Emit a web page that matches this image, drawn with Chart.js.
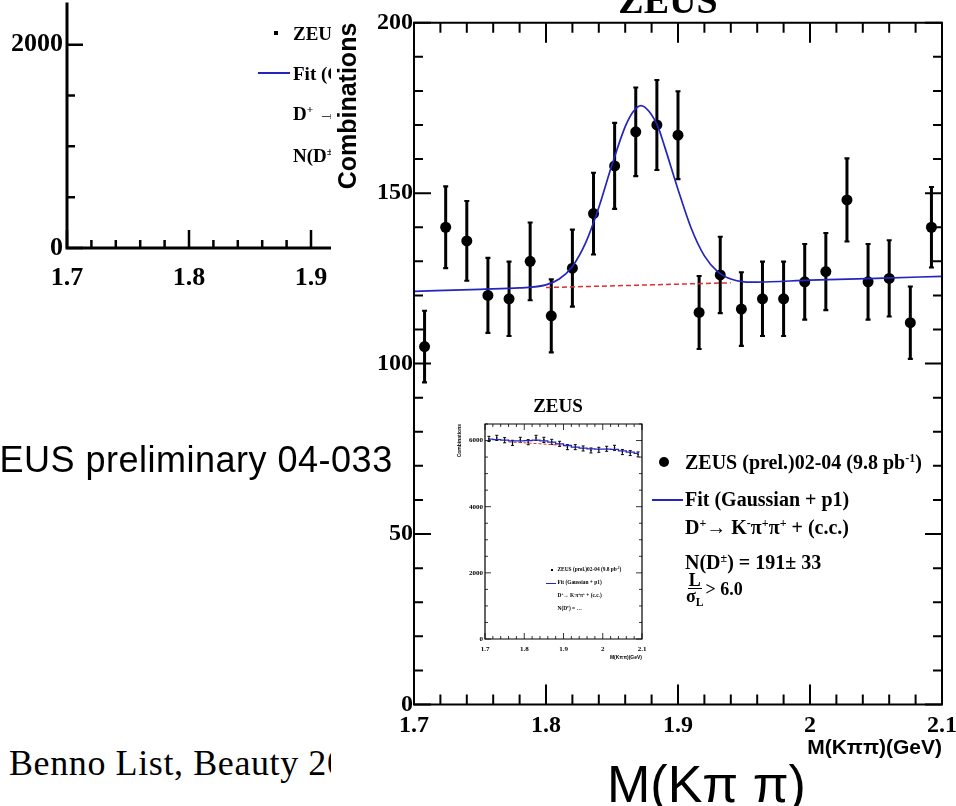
<!DOCTYPE html>
<html>
<head>
<meta charset="utf-8">
<script src="https://cdn.jsdelivr.net/npm/chart.js@4.4.1/dist/chart.umd.min.js"></script>
<style>
html,body{margin:0;padding:0;background:#fff;width:956px;height:806px;overflow:hidden;position:relative;}
.abs{position:absolute;white-space:nowrap;}
.serif{font-family:"Liberation Serif","Times New Roman",serif;}
.sans{font-family:"Liberation Sans",Arial,sans-serif;}
.b{font-weight:bold;}
sup{font-size:60%;line-height:0;vertical-align:0.6em;}
sub{font-size:65%;line-height:0;vertical-align:-0.3em;}
canvas{display:block;}
</style>
</head>
<body>
<!-- enlarged copy of the small plot, cropped at the left -->
<div id="leftWrap" class="abs" style="left:0;top:0;width:331px;height:300px;overflow:hidden;z-index:1;">
  <canvas id="leftChart" width="600" height="300"></canvas>
  <div class="abs" style="left:274px;top:31px;width:4px;height:4px;background:#000;"></div>
  <div class="abs serif b" style="left:293px;top:23.5px;font-size:19px;line-height:19px;">ZEUS (prel.)02-04 (9.8 pb<sup>-1</sup>)</div>
  <div class="abs" style="left:258px;top:72px;width:32px;height:1.5px;background:#2424c0;"></div>
  <div class="abs serif b" style="left:293px;top:63.5px;font-size:19px;line-height:19px;">Fit (Gaussian + p1)</div>
  <div class="abs serif b" style="left:293px;top:103.5px;font-size:19px;line-height:19px;">D<sup>+</sup>&nbsp;→ K<sup>-</sup>π<sup>+</sup>π<sup>+</sup> + (c.c.)</div>
  <div class="abs serif b" style="left:293px;top:145.5px;font-size:19px;line-height:19px;">N(D<sup>±</sup>) = …</div>
</div>

<canvas id="mainChart" class="abs" style="left:333px;top:0;z-index:2;" width="623" height="806"></canvas>
<canvas id="insetChart" class="abs" style="left:450px;top:395px;z-index:3;" width="200" height="270"></canvas>

<!-- main plot title -->
<div class="abs serif b" style="left:568px;top:-18.8px;width:200px;text-align:center;font-size:38px;line-height:38px;z-index:4;">ZEUS</div>

<!-- inset title and legend -->
<div class="abs serif b" style="left:508px;top:395.5px;width:100px;text-align:center;font-size:19px;line-height:19px;z-index:4;">ZEUS</div>
<div class="abs" style="left:551px;top:569px;width:2px;height:2px;background:#000;z-index:4;"></div>
<div class="abs serif b" style="left:557.5px;top:567.3px;font-size:5.4px;line-height:5.4px;z-index:4;">ZEUS (prel.)02-04 (9.8 pb<sup>-1</sup>)</div>
<div class="abs" style="left:546px;top:582.5px;width:10px;height:1px;background:#2424c0;z-index:4;"></div>
<div class="abs serif b" style="left:557.5px;top:580.3px;font-size:5.4px;line-height:5.4px;z-index:4;">Fit (Gaussian + p1)</div>
<div class="abs serif b" style="left:557.5px;top:593px;font-size:5.4px;line-height:5.4px;z-index:4;">D<sup>+</sup>→ K<sup>-</sup>π<sup>+</sup>π<sup>+</sup> + (c.c.)</div>
<div class="abs serif b" style="left:557.5px;top:606.3px;font-size:5.4px;line-height:5.4px;z-index:4;">N(D<sup>±</sup>) = …</div>

<!-- main legend -->
<div class="abs" style="left:659px;top:457px;width:10px;height:10px;border-radius:50%;background:#000;z-index:4;"></div>
<div class="abs serif b" style="left:685px;top:452px;font-size:20px;line-height:20px;z-index:4;">ZEUS (prel.)02-04 (9.8 pb<sup>-1</sup>)</div>
<div class="abs" style="left:652px;top:498.5px;width:31px;height:2px;background:#2424c0;z-index:4;"></div>
<div class="abs serif b" style="left:685px;top:489px;font-size:20px;line-height:20px;z-index:4;">Fit (Gaussian + p1)</div>
<div class="abs serif b" style="left:685px;top:517px;font-size:20px;line-height:20px;z-index:4;">D<sup>+</sup>→ K<sup>-</sup>π<sup>+</sup>π<sup>+</sup> + (c.c.)</div>
<div class="abs serif b" style="left:685px;top:552px;font-size:20px;line-height:20px;z-index:4;">N(D<sup>±</sup>) = 191± 33</div>
<div class="abs serif b" style="left:686px;top:573px;font-size:18px;line-height:1;display:flex;align-items:center;z-index:4;">
  <span style="display:inline-flex;flex-direction:column;align-items:center;line-height:15px;">
    <span style="border-bottom:1.5px solid #000;padding:0 1px;">L</span>
    <span>σ<sub>L</sub></span>
  </span>
  <span style="margin-left:2px;">&gt; 6.0</span>
</div>

<!-- slide texts -->
<div class="abs sans" style="left:-23px;top:441.5px;font-size:36px;line-height:36px;letter-spacing:0.5px;z-index:5;">ZEUS preliminary 04-033</div>
<div class="abs" style="left:0;top:740px;width:331px;height:66px;overflow:hidden;z-index:1;">
  <div class="abs serif" style="left:9px;top:4.8px;font-size:36px;line-height:36px;letter-spacing:0.6px;">Benno List, Beauty 2004</div>
</div>
<div class="abs sans" style="left:607px;top:758px;font-size:52px;line-height:52px;z-index:5;">M(Kπ π)</div>

<script>
// ---------- main plot data ----------
const massBins = [1.708,1.724,1.740,1.756,1.772,1.788,1.804,1.820,1.836,1.852,1.868,1.884,1.900,
                  1.916,1.932,1.948,1.964,1.980,1.996,2.012,2.028,2.044,2.060,2.076,2.092];
const combinations = [105,140,136,120,119,130,114,128,144,158,168,170,167,
                      115,126,116,119,119,124,127,148,124,125,112,140];
const combErrors = [10.5,12.0,11.7,11.0,10.9,11.4,10.7,11.3,12.0,12.6,13.0,13.2,12.9,
                    10.7,11.2,10.8,10.9,10.9,11.1,11.3,12.2,11.1,11.2,10.6,11.8];
const fitMass = [1.700,1.750,1.780,1.800,1.810,1.820,1.830,1.840,1.850,1.860,1.866,1.872,1.878,
                 1.885,1.890,1.900,1.910,1.920,1.930,1.940,1.950,1.960,2.000,2.050,2.100];
const fitValues = [121.2,121.8,122.2,123.1,124.8,128.5,135.4,145.8,158.3,169.5,173.9,175.7,174.0,
                   169.3,163.5,151.1,139.7,131.6,127.0,124.8,124.0,123.9,124.5,125.0,125.6];
const bgMass = [1.800,1.840,1.880,1.920,1.940];
const bgValues = [122.3,122.7,123.1,123.5,123.7];
const xTickValues = [1.7,1.8,1.9,2.0,2.1];
const xTickLabels = ['1.7','1.8','1.9','2','2.1'];
const yTickValues = [0,50,100,150,200];
const yTickLabels = ['0','50','100','150','200'];

// ---------- small (inset) plot data ----------
const insetMass = [1.71,1.73,1.75,1.77,1.79,1.81,1.83,1.85,1.87,1.89,
                   1.91,1.93,1.95,1.97,1.99,2.01,2.03,2.05,2.07,2.09];
const insetCounts = [6050,6080,6010,5930,6020,5950,6080,6020,5960,5900,
                     5800,5800,5760,5700,5720,5750,5780,5650,5620,5580];
const insetErrors = [78,78,78,77,78,77,78,78,77,77,76,76,76,75,76,76,76,75,75,75];
const insetFit = [6040,6030,6010,5990,5990,6000,6010,5990,5950,5900,
                  5850,5800,5770,5750,5740,5740,5730,5690,5650,5610];
const insetBgMass = [1.76,1.83,1.90];
const insetBgValues = [5960,5910,5850];
const insetYTickValues = [0,2000,4000,6000];
const insetYTickLabels = ['0','2000','4000','6000'];
const leftYTickValues = [0,2000];
const leftYTickLabels = ['0','2000'];

const SERIF = 'Liberation Serif';
const SANS = 'Liberation Sans';
const BLUE = '#2424c0';
const RED = '#d83030';

function pick(values, labels){
  return v => { const i = values.findIndex(t => Math.abs(t - v) < 1e-6); return i >= 0 ? labels[i] : ''; };
}
function fixedTicks(values){
  return s => { s.ticks = values.map(v => ({value:v})); };
}
function pts(xs, ys){ return xs.map((x,i)=>({x:x, y:ys[i]})); }

function errorBarPlugin(capHalf, lineW){
  return {
    id:'errorBars',
    beforeDatasetsDraw(chart){
      const {ctx, chartArea:a, scales:{x,y}} = chart;
      ctx.save();
      ctx.beginPath(); ctx.rect(a.left, a.top, a.right-a.left, a.bottom-a.top); ctx.clip();
      chart.data.datasets.forEach(ds=>{
        if(!ds.errors) return;
        ctx.strokeStyle = ds.errorColor || '#000';
        ds.data.forEach((p,i)=>{
          const e = ds.errors[i];
          const px = x.getPixelForValue(p.x);
          const yt = y.getPixelForValue(p.y + e), yb = y.getPixelForValue(p.y - e);
          ctx.lineWidth = lineW;
          ctx.beginPath(); ctx.moveTo(px, yt); ctx.lineTo(px, yb); ctx.stroke();
          ctx.lineWidth = Math.max(1, lineW*0.7);
          ctx.beginPath();
          ctx.moveTo(px-capHalf, yt); ctx.lineTo(px+capHalf, yt);
          ctx.moveTo(px-capHalf, yb); ctx.lineTo(px+capHalf, yb);
          ctx.stroke();
        });
      });
      ctx.restore();
    }
  };
}

function frameTicksPlugin(c){
  return {
    id:'frameTicks',
    afterDraw(chart){
      const {ctx, chartArea:a, scales:{x,y}} = chart;
      ctx.save();
      ctx.strokeStyle = '#000';
      ctx.lineWidth = c.tickWidth;
      ctx.beginPath();
      const nx = Math.floor((x.max - x.min)/c.xMinor + 1e-6);
      for(let i=0;i<=nx;i++){
        const px = x.getPixelForValue(x.min + i*c.xMinor);
        const len = (i % c.xMajorEvery === 0) ? c.xMajorLen : c.xMinorLen;
        if(c.sides.includes('bottom')){ ctx.moveTo(px, a.bottom); ctx.lineTo(px, a.bottom - len); }
        if(c.sides.includes('top')){ ctx.moveTo(px, a.top); ctx.lineTo(px, a.top + len); }
      }
      const ny = Math.floor((y.max - y.min)/c.yMinor + 1e-6);
      for(let i=0;i<=ny;i++){
        const py = y.getPixelForValue(y.min + i*c.yMinor);
        const len = (i % c.yMajorEvery === 0) ? c.yMajorLen : c.yMinorLen;
        if(c.sides.includes('left')){ ctx.moveTo(a.left, py); ctx.lineTo(a.left + len, py); }
        if(c.sides.includes('right')){ ctx.moveTo(a.right, py); ctx.lineTo(a.right - len, py); }
      }
      ctx.stroke();
      ctx.lineWidth = c.frameWidth;
      ctx.lineCap = 'square';
      ctx.beginPath();
      if(c.sides.includes('bottom')){ ctx.moveTo(a.left, a.bottom); ctx.lineTo(a.right, a.bottom); }
      if(c.sides.includes('top')){ ctx.moveTo(a.left, a.top); ctx.lineTo(a.right, a.top); }
      if(c.sides.includes('left')){ ctx.moveTo(a.left, a.top); ctx.lineTo(a.left, a.bottom); }
      if(c.sides.includes('right')){ ctx.moveTo(a.right, a.top); ctx.lineTo(a.right, a.bottom); }
      ctx.stroke();
      ctx.restore();
    }
  };
}

function zeroPad(s){ s.paddingLeft = 0; s.paddingRight = 0; s.paddingTop = 0; s.paddingBottom = 0; }
const noGrid = {display:false, drawTicks:false};

// ---------- main chart ----------
new Chart(document.getElementById('mainChart'), {
  type:'scatter',
  data:{
    datasets:[
      {label:'Fit (Gaussian + p1)', data:pts(fitMass, fitValues), showLine:true, pointRadius:0,
       borderColor:BLUE, borderWidth:1.7, cubicInterpolationMode:'monotone'},
      {label:'Background', data:pts(bgMass, bgValues), showLine:true, pointRadius:0,
       borderColor:RED, borderWidth:1.5, borderDash:[5,3]},
      {label:'ZEUS (prel.)02-04', data:pts(massBins, combinations), errors:combErrors, showLine:false,
       pointRadius:5.5, pointBackgroundColor:'#000', pointBorderWidth:0}
    ]
  },
  options:{
    responsive:false, animation:false, devicePixelRatio:1,
    layout:{padding:{left:0, right:14, top:22.7, bottom:0}},
    plugins:{legend:{display:false}, tooltip:{enabled:false}, title:{display:false}},
    scales:{
      x:{type:'linear', min:1.7, max:2.1,
         grid:noGrid, border:{display:false},
         afterBuildTicks:fixedTicks(xTickValues),
         ticks:{autoSkip:false, maxRotation:0, minRotation:0, padding:7,
                color:'#000', font:{family:SERIF, weight:'bold', size:24}, callback:pick(xTickValues, xTickLabels)},
         title:{display:true, text:'M(Kππ)(GeV)', align:'end', color:'#000',
                font:{family:SANS, weight:'bold', size:21}, padding:{top:0, bottom:45}},
         afterFit:(s)=>{ s.height = 101.5; zeroPad(s); }},
      y:{type:'linear', min:0, max:200,
         grid:noGrid, border:{display:false},
         afterBuildTicks:fixedTicks(yTickValues),
         ticks:{autoSkip:false, padding:1, color:'#000',
                font:{family:SERIF, weight:'bold', size:24}, callback:pick(yTickValues, yTickLabels)},
         title:{display:true, text:'Combinations', align:'end', color:'#000',
                font:{family:SANS, weight:'bold', size:25}, padding:{top:1, bottom:0}},
         afterFit:(s)=>{ s.width = 81; zeroPad(s); }}
    }
  },
  plugins:[errorBarPlugin(2.5, 3), frameTicksPlugin({
    sides:['bottom','top','left','right'], tickWidth:2, frameWidth:2,
    xMinor:0.02, xMajorEvery:5, xMajorLen:20, xMinorLen:10,
    yMinor:10, yMajorEvery:5, yMajorLen:17, yMinorLen:9})]
});

// ---------- inset chart ----------
new Chart(document.getElementById('insetChart'), {
  type:'scatter',
  data:{
    datasets:[
      {label:'Fit', data:pts(insetMass, insetFit), showLine:true, stepped:'middle', pointRadius:0,
       borderColor:BLUE, borderWidth:1.3},
      {label:'Background', data:pts(insetBgMass, insetBgValues), showLine:true, pointRadius:0,
       borderColor:RED, borderWidth:1, borderDash:[3,2]},
      {label:'ZEUS', data:pts(insetMass, insetCounts), errors:insetErrors, showLine:false,
       pointRadius:0.8, pointBackgroundColor:'#000', pointBorderWidth:0}
    ]
  },
  options:{
    responsive:false, animation:false, devicePixelRatio:1,
    layout:{padding:{left:0, right:8, top:29, bottom:0}},
    plugins:{legend:{display:false}, tooltip:{enabled:false}, title:{display:false}},
    scales:{
      x:{type:'linear', min:1.7, max:2.1,
         grid:noGrid, border:{display:false},
         afterBuildTicks:fixedTicks(xTickValues),
         ticks:{autoSkip:false, maxRotation:0, minRotation:0, padding:5.8,
                color:'#000', font:{family:SERIF, weight:'bold', size:7}, callback:pick(xTickValues, xTickLabels)},
         title:{display:true, text:'M(Kππ)(GeV)', align:'end', color:'#000',
                font:{family:SANS, weight:'bold', size:5}, padding:{top:0, bottom:4}},
         afterFit:(s)=>{ s.height = 26; zeroPad(s); }},
      y:{type:'linear', min:0, max:6500,
         grid:noGrid, border:{display:false},
         afterBuildTicks:fixedTicks(insetYTickValues),
         ticks:{autoSkip:false, padding:2, color:'#000',
                font:{family:SERIF, weight:'bold', size:7}, callback:pick(insetYTickValues, insetYTickLabels)},
         title:{display:true, text:'Combinations', align:'end', color:'#000',
                font:{family:SANS, weight:'bold', size:5}, padding:{top:7, bottom:0}},
         afterFit:(s)=>{ s.width = 35; zeroPad(s); }}
    }
  },
  plugins:[errorBarPlugin(1.5, 1), frameTicksPlugin({
    sides:['bottom','top','left','right'], tickWidth:0.8, frameWidth:1.2,
    xMinor:0.02, xMajorEvery:5, xMajorLen:6, xMinorLen:3,
    yMinor:500, yMajorEvery:4, yMajorLen:6, yMinorLen:3})]
});

// ---------- enlarged copy (left, cropped) ----------
new Chart(document.getElementById('leftChart'), {
  type:'scatter',
  data:{
    datasets:[
      {label:'Fit', data:pts(insetMass, insetFit), showLine:true, stepped:'middle', pointRadius:0,
       borderColor:BLUE, borderWidth:2},
      {label:'ZEUS', data:pts(insetMass, insetCounts), errors:insetErrors, showLine:false,
       pointRadius:2, pointBackgroundColor:'#000', pointBorderWidth:0}
    ]
  },
  options:{
    responsive:false, animation:false, devicePixelRatio:1,
    layout:{padding:{left:0, right:45, top:1, bottom:0}},
    plugins:{legend:{display:false}, tooltip:{enabled:false}, title:{display:false}},
    scales:{
      x:{type:'linear', min:1.7, max:2.1,
         grid:noGrid, border:{display:false},
         afterBuildTicks:fixedTicks(xTickValues),
         ticks:{autoSkip:false, maxRotation:0, minRotation:0, padding:14.4,
                color:'#000', font:{family:SERIF, weight:'bold', size:26}, callback:pick(xTickValues, xTickLabels)},
         afterFit:(s)=>{ s.height = 52; zeroPad(s); }},
      y:{type:'linear', min:0, max:2400,
         grid:noGrid, border:{display:false},
         afterBuildTicks:fixedTicks(leftYTickValues),
         ticks:{autoSkip:false, padding:4, color:'#000',
                font:{family:SERIF, weight:'bold', size:26}, callback:pick(leftYTickValues, leftYTickLabels)},
         afterFit:(s)=>{ s.width = 67; zeroPad(s); }}
    }
  },
  plugins:[errorBarPlugin(4, 3), frameTicksPlugin({
    sides:['bottom','left'], tickWidth:2.5, frameWidth:3,
    xMinor:0.02, xMajorEvery:5, xMajorLen:18, xMinorLen:8,
    yMinor:500, yMajorEvery:4, yMajorLen:16, yMinorLen:8})]
});
</script>
</body>
</html>
